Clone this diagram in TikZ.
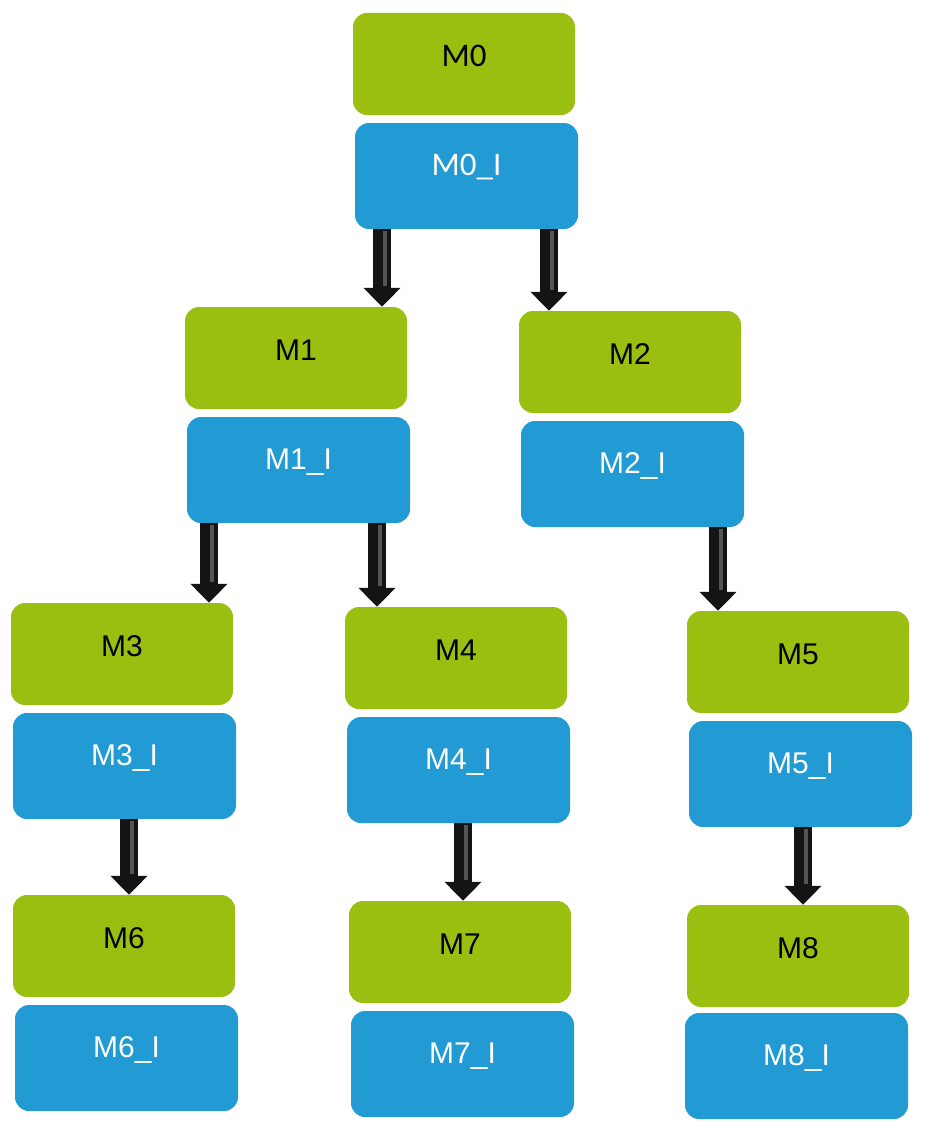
\documentclass[tikz,border=0pt]{standalone}
\usepackage{fontspec}
\setmainfont{Liberation Sans}
\newfontfamily\calib{Carlito}
\usetikzlibrary{arrows.meta}
\definecolor{boxgreen}{RGB}{154,191,16}
\definecolor{boxblue}{RGB}{34,154,211}
\definecolor{arrowdark}{RGB}{20,20,20}
\definecolor{arrowhl}{RGB}{85,85,85}
\tikzset{
  box/.style={rounded corners=14pt, minimum width=222pt, text height=21pt,
    font=\fontsize{30}{32}\selectfont, inner sep=0pt},
  gbox/.style={box, fill=boxgreen, minimum height=102pt, text depth=16pt, text=black},
  bbox/.style={box, fill=boxblue, minimum height=106pt, minimum width=223pt, text depth=22pt, text=white},
  calfont/.style={font=\calib\fontsize{33}{35}\selectfont},
  fatarrow/.style={draw=arrowdark, line width=18pt, -{Triangle[width=36pt,length=19pt]}},
  stripe/.style={draw=arrowhl, line width=4pt},
}
\newcommand\fatarr[4]{%
  \coordinate (#1s) at ([xshift=#3]#2.south);
  \coordinate (#1e) at (#1s |- #4.north);
  \draw[fatarrow] (#1s) -- (#1e);
  \draw[stripe] ([xshift=3pt,yshift=-2pt]#1s) -- ([xshift=3pt,yshift=21pt]#1e);
}
\begin{document}
\begin{tikzpicture}[x=1pt,y=-1pt]
\useasboundingbox (0,0) rectangle (925,1140);
\node[gbox, calfont] (m0) at (464,64) {M0};
\node[bbox, calfont] (m0i) at (466.5,176) {M0\_I};
\node[gbox] (m1) at (296,358) {M1};
\node[bbox] (m1i) at (298.5,470) {M1\_I};
\node[gbox] (m2) at (630,362) {M2};
\node[bbox] (m2i) at (632.5,474) {M2\_I};
\node[gbox] (m3) at (122,654) {M3};
\node[bbox] (m3i) at (124.5,766) {M3\_I};
\node[gbox] (m4) at (456,658) {M4};
\node[bbox] (m4i) at (458.5,770) {M4\_I};
\node[gbox] (m5) at (798,662) {M5};
\node[bbox] (m5i) at (800.5,774) {M5\_I};
\node[gbox] (m6) at (124,946) {M6};
\node[bbox] (m6i) at (126.5,1058) {M6\_I};
\node[gbox] (m7) at (460,952) {M7};
\node[bbox] (m7i) at (462.5,1064) {M7\_I};
\node[gbox] (m8) at (798,956) {M8};
\node[bbox] (m8i) at (796.5,1066) {M8\_I};
\fatarr{a1}{m0i}{-84.5pt}{m1}
\fatarr{a2}{m0i}{82.5pt}{m2}
\fatarr{a3}{m1i}{-89.5pt}{m3}
\fatarr{a4}{m1i}{78.5pt}{m4}
\fatarr{a5}{m2i}{85.5pt}{m5}
\fatarr{a6}{m3i}{4.5pt}{m6}
\fatarr{a7}{m4i}{4.5pt}{m7}
\fatarr{a8}{m5i}{2.5pt}{m8}
\end{tikzpicture}
\end{document}
